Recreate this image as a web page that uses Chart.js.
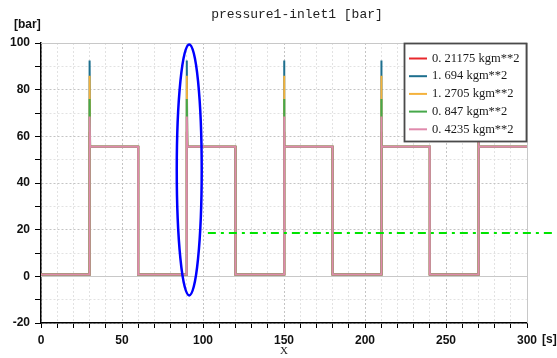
<!DOCTYPE html>
<html lang="en">
<head>
    <meta charset="UTF-8">
    <title>pressure1-inlet1</title>
    <style>
        body { margin: 0; background: #fff; }
    </style>
</head>
<body>
    <canvas id="myChart" width="557" height="358"></canvas>
    <script src="https://cdn.jsdelivr.net/npm/chart.js"></script>
    <script>
        // time points (s) shared by every curve
        const times = [0, 30, 30, 30.3, 60, 60, 90, 90, 90.3, 120, 120, 150, 150, 150.3, 180, 180, 210, 210, 210.3, 240, 240, 270, 270, 270.3, 300];

        // pressure values [bar]
        const p21175 = [0.8, 0.8, 62, 55.5, 55.5, 0.8, 0.8, 62, 55.5, 55.5, 0.8, 0.8, 62, 55.5, 55.5, 0.8, 0.8, 62, 55.5, 55.5, 0.8, 0.8, 62, 55.5, 55.5];
        const p1694  = [0.8, 0.8, 92.5, 55.5, 55.5, 0.8, 0.8, 92.5, 55.5, 55.5, 0.8, 0.8, 92.5, 55.5, 55.5, 0.8, 0.8, 92.5, 55.5, 55.5, 0.8, 0.8, 92.5, 55.5, 55.5];
        const p12705 = [0.8, 0.8, 86, 55.5, 55.5, 0.8, 0.8, 86, 55.5, 55.5, 0.8, 0.8, 86, 55.5, 55.5, 0.8, 0.8, 86, 55.5, 55.5, 0.8, 0.8, 86, 55.5, 55.5];
        const p847   = [0.8, 0.8, 76, 55.5, 55.5, 0.8, 0.8, 76, 55.5, 55.5, 0.8, 0.8, 76, 55.5, 55.5, 0.8, 0.8, 76, 55.5, 55.5, 0.8, 0.8, 76, 55.5, 55.5];
        const p4235  = [0.8, 0.8, 68.5, 55.5, 55.5, 0.8, 0.8, 68.5, 55.5, 55.5, 0.8, 0.8, 68.5, 55.5, 55.5, 0.8, 0.8, 68.5, 55.5, 55.5, 0.8, 0.8, 68.5, 55.5, 55.5];

        const seriesLabels = ['0. 21175 kgm**2', '1. 694 kgm**2', '1. 2705 kgm**2', '0. 847 kgm**2', '0. 4235 kgm**2'];
        const seriesColors = ['#e8282c', '#1d6f8e', '#f4b23c', '#46a84a', '#e08aac'];

        // green dash-dot reference line
        const refX = [103, 316];
        const refY = [18.6, 18.6];

        // blue ellipse marking the second rise (data units)
        const ellipseCenter = [91.5, 45.6];
        const ellipseRadius = [7.7, 53.8];

        const toPoints = (xs, ys) => xs.map((t, i) => ({x: t, y: ys[i]}));
        const allSeries = [p21175, p1694, p12705, p847, p4235];

        const datasets = allSeries.map((vals, i) => ({
            label: seriesLabels[i],
            data: toPoints(times, vals),
            borderColor: seriesColors[i],
            borderWidth: 2,
            pointRadius: 0,
            order: 5 - i     // last series on top
        }));
        datasets.push({
            label: 'ref',
            data: toPoints(refX, refY),
            borderColor: '#00e400',
            borderWidth: 2,
            borderDash: [8, 5, 3, 5],
            pointRadius: 0,
            clip: false,
            order: 0
        });

        const extras = {
            id: 'extras',
            beforeDatasetsDraw(chart) {
                const {ctx, chartArea: a, scales: {y}} = chart;
                ctx.save();
                ctx.strokeStyle = '#c8c8c8';
                ctx.lineWidth = 1;
                ctx.setLineDash([]);
                ctx.beginPath();
                const y0 = Math.round(y.getPixelForValue(0)) + 0.5;
                ctx.moveTo(a.left, y0); ctx.lineTo(a.right, y0);
                ctx.moveTo(a.left, Math.round(a.top) + 0.5);
                ctx.lineTo(Math.round(a.right) + 0.5, Math.round(a.top) + 0.5);
                ctx.lineTo(Math.round(a.right) + 0.5, a.bottom);
                ctx.stroke();
                ctx.restore();
            },
            afterDatasetsDraw(chart) {
                const {ctx, scales: {x, y}} = chart;
                const cx = x.getPixelForValue(ellipseCenter[0]);
                const cy = y.getPixelForValue(ellipseCenter[1]);
                const rx = x.getPixelForValue(ellipseCenter[0] + ellipseRadius[0]) - cx;
                const ry = cy - y.getPixelForValue(ellipseCenter[1] + ellipseRadius[1]);
                ctx.save();
                ctx.strokeStyle = '#0000ff';
                ctx.lineWidth = 2.5;
                ctx.beginPath();
                ctx.ellipse(cx, cy, rx, ry, 0, 0, Math.PI * 2);
                ctx.stroke();
                ctx.restore();
            },
            afterDraw(chart) {
                const {ctx, chartArea: a} = chart;
                ctx.save();
                // legend box
                const lx = 404, ly = 43, lw = 122, lh = 98;
                ctx.fillStyle = '#fff';
                ctx.fillRect(lx, ly, lw, lh);
                ctx.strokeStyle = '#4a4a4a';
                ctx.lineWidth = 1.8;
                ctx.strokeRect(lx + 0.5, ly + 0.5, lw, lh);
                ctx.font = "12.5px 'Liberation Serif'";
                ctx.textBaseline = 'middle';
                ctx.textAlign = 'left';
                seriesLabels.forEach((lab, i) => {
                    const ry = 58.5 + i * 17.7;
                    ctx.strokeStyle = seriesColors[i];
                    ctx.lineWidth = 2;
                    ctx.beginPath();
                    ctx.moveTo(409, ry); ctx.lineTo(427, ry);
                    ctx.stroke();
                    ctx.fillStyle = '#1a1a1a';
                    ctx.fillText(lab, 432, ry);
                });
                // title and axis names
                ctx.fillStyle = '#222';
                ctx.font = "13px 'Liberation Mono'";
                ctx.textAlign = 'center';
                ctx.fillText('pressure1-inlet1 [bar]', 297, 15);
                ctx.font = "11px 'Liberation Serif'";
                ctx.fillText('X', (a.left + a.right) / 2, 351);
                ctx.font = "bold 12px 'Liberation Sans'";
                ctx.fillStyle = '#111';
                ctx.textAlign = 'left';
                ctx.fillText('[bar]', 14, 25);
                ctx.fillText('[s]', 542, 340);
                ctx.restore();
            }
        };

        const tickFont = {family: "'Liberation Sans'", weight: 'bold', size: 12};

        const myChart = new Chart(document.querySelector('#myChart'), {
            type: 'line',
            data: {datasets: datasets},
            plugins: [extras],
            options: {
                responsive: false,
                animation: false,
                layout: {padding: {left: 0, top: 43, right: 30, bottom: 0}},
                plugins: {legend: {display: false}, tooltip: {enabled: false}},
                scales: {
                    x: {
                        type: 'linear',
                        min: 0,
                        max: 300,
                        afterFit: s => { s.height = 35; },
                        ticks: {
                            stepSize: 10,
                            autoSkip: false,
                            maxRotation: 0,
                            padding: 5,
                            color: '#111',
                            font: tickFont,
                            callback: v => (v % 50 === 0 ? v : '')
                        },
                        grid: {
                            color: c => (c.tick && c.tick.value % 50 === 0 ? '#c4c4c4' : '#e2e2e2'),
                            tickColor: '#000',
                            tickLength: 5,
                            tickBorderDash: []
                        },
                        border: {color: '#000', width: 1.5, dash: [2, 2]}
                    },
                    y: {
                        min: -20,
                        max: 100,
                        afterFit: s => { s.width = 41; },
                        ticks: {
                            stepSize: 10,
                            padding: 5,
                            color: '#111',
                            font: tickFont,
                            callback: v => (v % 20 === 0 ? v : '')
                        },
                        grid: {
                            color: c => (c.tick && c.tick.value % 20 === 0 ? '#c4c4c4' : '#e2e2e2'),
                            tickColor: '#000',
                            tickLength: 6,
                            tickBorderDash: []
                        },
                        border: {color: '#000', width: 1.5, dash: [2, 2]}
                    }
                }
            }
        });
    </script>
</body>
</html>
